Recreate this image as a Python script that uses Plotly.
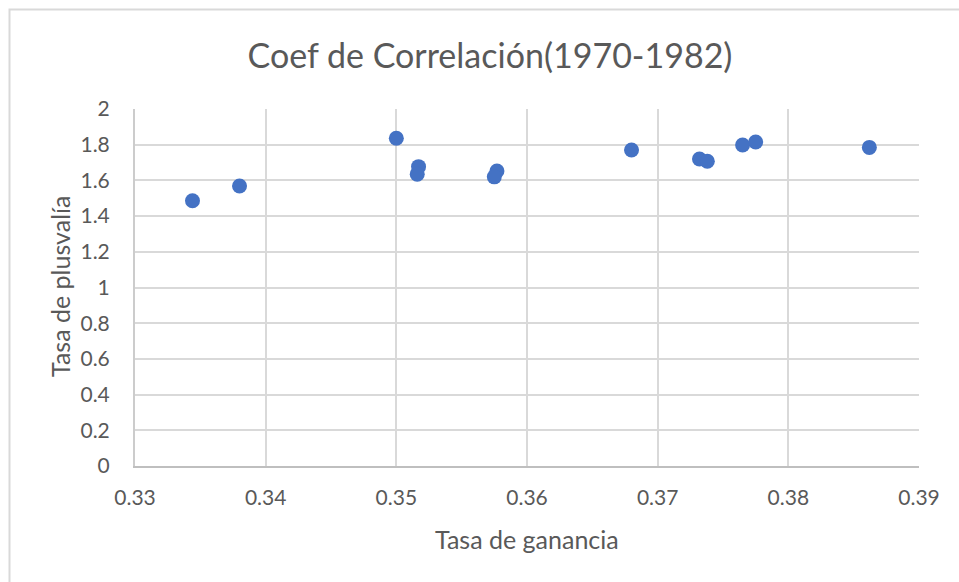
import plotly.graph_objects as go

# Data (1970-1982)
tasa_ganancia = [0.3344, 0.3380, 0.3500, 0.3517, 0.3516, 0.3577, 0.3575,
                 0.3680, 0.3732, 0.3738, 0.3765, 0.3775, 0.3862]
tasa_plusvalia = [1.486, 1.569, 1.836, 1.677, 1.635, 1.653, 1.620,
                  1.770, 1.720, 1.707, 1.798, 1.815, 1.785]

x_ticks = [0.33, 0.34, 0.35, 0.36, 0.37, 0.38, 0.39]
y_ticks = [0, 0.2, 0.4, 0.6, 0.8, 1, 1.2, 1.4, 1.6, 1.8, 2]

W, H = 959, 582
ML, MR, MT, MB = 135, 40, 109, 116
PW, PH = W - ML - MR, H - MT - MB

FONT = "Lato"
TXT = "#595959"

fig = go.Figure()
fig.add_trace(go.Scatter(
    x=tasa_ganancia, y=tasa_plusvalia, mode="markers",
    marker=dict(color="#4472C4", size=15, line=dict(width=0)),
    showlegend=False, hoverinfo="x+y",
))

def px2paper_x(px):
    return (px - ML) / PW

def px2paper_y(py):
    return (H - MB - py) / PH

fig.update_layout(
    width=W, height=H,
    margin=dict(l=ML, r=MR, t=MT, b=MB, autoexpand=False),
    paper_bgcolor="white", plot_bgcolor="white",
    title=dict(text="Coef de Correlación(1970-1982)", x=490 / W, xanchor="center",
               y=1 - 56 / H, yanchor="middle",
               font=dict(family=FONT, size=34, color=TXT)),
    font=dict(family=FONT, color=TXT),
    xaxis=dict(
        range=[0.33, 0.39], tickvals=x_ticks,
        ticktext=[f"{v:g}" for v in x_ticks],
        showgrid=True, gridcolor="#D9D9D9", gridwidth=1.8,
        showline=True, linecolor="#BFBFBF", linewidth=2,
        zeroline=False, ticks="outside", ticklen=12, tickcolor="rgba(0,0,0,0)",
        tickfont=dict(family=FONT, size=21, color=TXT),
        automargin=False,
    ),
    yaxis=dict(
        range=[0, 2], tickvals=y_ticks,
        ticktext=[f"{v:g}" for v in y_ticks],
        showgrid=True, gridcolor="#D9D9D9", gridwidth=1.8,
        showline=True, linecolor="#CCCCCC", linewidth=2,
        zeroline=False, ticks="outside", ticklen=19, tickcolor="rgba(0,0,0,0)",
        tickfont=dict(family=FONT, size=21, color=TXT),
        automargin=False,
    ),
    annotations=[
        dict(text="Tasa de ganancia", xref="paper", yref="paper",
             x=px2paper_x(527), y=px2paper_y(539), xanchor="center", yanchor="middle",
             showarrow=False, font=dict(family=FONT, size=25, color=TXT)),
        dict(text="Tasa de plusvalía", xref="paper", yref="paper",
             x=px2paper_x(60), y=px2paper_y(287), xanchor="center", yanchor="middle",
             textangle=-90, showarrow=False, font=dict(family=FONT, size=25, color=TXT)),
    ],
    shapes=[dict(type="rect", xref="paper", yref="paper",
                 x0=px2paper_x(9.5), x1=px2paper_x(975),
                 y0=px2paper_y(600), y1=px2paper_y(9.5),
                 line=dict(color="#D9D9D9", width=2), layer="below")],
)

fig.write_html("out.html", config={"displayModeBar": False},
               post_script="document.body.style.margin='0px';")
